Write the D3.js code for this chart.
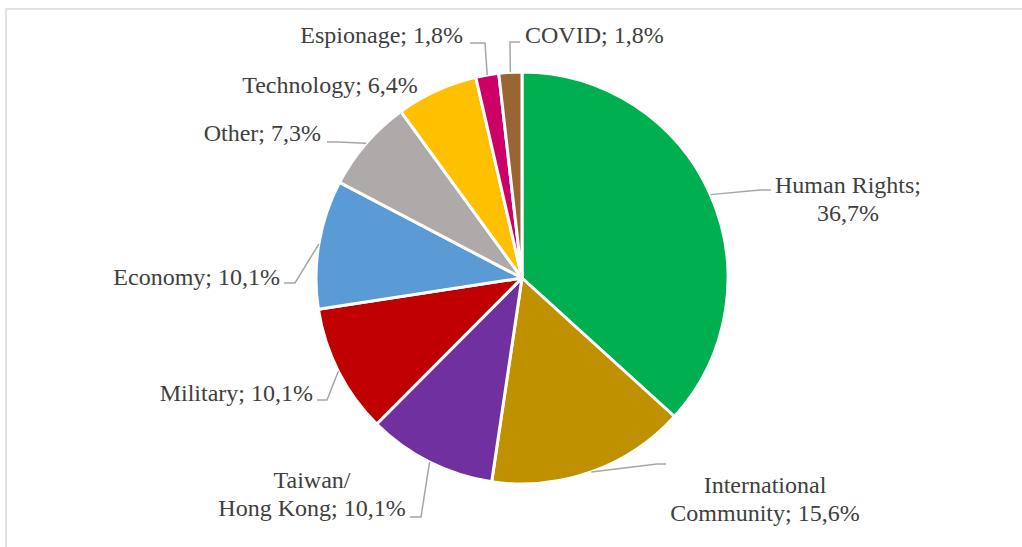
<!DOCTYPE html>
<html>
<head>
<meta charset="utf-8">
<script src="https://cdn.jsdelivr.net/npm/d3@7"></script>
<style>
  html, body { margin: 0; padding: 0; background: #fff; }
  svg { display: block; }
</style>
</head>
<body>
<svg id="chart" width="1022" height="547"></svg>
<script>
// Share of coverage by topic (percent), clockwise from 12 o'clock
const categories = ["Human Rights", "International Community", "Taiwan/ Hong Kong", "Military",
                    "Economy", "Other", "Technology", "Espionage", "COVID"];
const shares = [36.7, 15.6, 10.1, 10.1, 10.1, 7.3, 6.4, 1.8, 1.8];
const labelLines = [
  ["Human Rights;", "36,7%"],
  ["International", "Community; 15,6%"],
  ["Taiwan/", "Hong Kong; 10,1%"],
  ["Military; 10,1%"],
  ["Economy; 10,1%"],
  ["Other; 7,3%"],
  ["Technology; 6,4%"],
  ["Espionage; 1,8%"],
  ["COVID; 1,8%"]
];
const sliceColors = ["#00B050", "#BF9000", "#7030A0", "#C00000", "#5B9BD5",
                     "#AEAAAA", "#FFC000", "#CC0066", "#996633"];

// Label placement: text anchor point, alignment, and leader elbow/end points
const labelLayout = [
  { x: 848, y: 193, anchor: "middle", leader: [[760, 190], [771, 190]] },
  { x: 765, y: 493, anchor: "middle", leader: [[657, 464], [666, 464]] },
  { x: 312, y: 488, anchor: "middle", leader: [[421, 517], [410, 517]] },
  { x: 313, y: 401, anchor: "end",    leader: [[327, 400], [317, 400]] },
  { x: 280, y: 285, anchor: "end",    leader: [[295, 283], [284, 283]] },
  { x: 321, y: 141, anchor: "end",    leader: [[338, 142], [327, 142]] },
  { x: 330, y: 93,  anchor: "middle", leader: null },
  { x: 463, y: 43,  anchor: "end",    leader: [[485, 43], [470, 43]] },
  { x: 525, y: 43,  anchor: "start",  leader: [[510, 42], [520, 42]] }
];

const svg = d3.select("#chart");
const cx = 522, cy = 278, radius = 206;
const lineHeight = 28;

// Chart area frame
svg.append("rect")
  .attr("x", 6).attr("y", 9)
  .attr("width", 1040).attr("height", 560)
  .attr("fill", "#fff")
  .attr("stroke", "#d9d9d9")
  .attr("stroke-width", 1.5);

const data = categories.map((c, i) => ({ name: c, value: shares[i], i }));
const pie = d3.pie().value(d => d.value).sort(null);
const arcs = pie(data);
const arc = d3.arc().innerRadius(0).outerRadius(radius);

const g = svg.append("g").attr("transform", `translate(${cx},${cy})`);

g.selectAll("path.slice")
  .data(arcs)
  .join("path")
  .attr("class", "slice")
  .attr("d", arc)
  .attr("fill", d => sliceColors[d.data.i])
  .attr("stroke", "#fff")
  .attr("stroke-width", 3)
  .attr("stroke-linejoin", "round");

// Leader lines from slice edge midpoints to the labels
const line = d3.line();
arcs.forEach(d => {
  const lay = labelLayout[d.data.i];
  if (!lay.leader) return;
  const mid = (d.startAngle + d.endAngle) / 2;
  const p0 = [cx + radius * Math.sin(mid), cy - radius * Math.cos(mid)];
  svg.append("path")
    .attr("d", line([p0, ...lay.leader]))
    .attr("fill", "none")
    .attr("stroke", "#a6a6a6")
    .attr("stroke-width", 1.5);
});

// Data labels
arcs.forEach(d => {
  const lay = labelLayout[d.data.i];
  const t = svg.append("text")
    .attr("x", lay.x).attr("y", lay.y)
    .attr("text-anchor", lay.anchor)
    .attr("font-family", "'Liberation Serif', 'Times New Roman', serif")
    .attr("font-size", 24)
    .attr("fill", "#404040");
  labelLines[d.data.i].forEach((txt, k) => {
    t.append("tspan")
      .attr("x", lay.x)
      .attr("dy", k === 0 ? 0 : lineHeight)
      .text(txt);
  });
});
</script>
</body>
</html>
